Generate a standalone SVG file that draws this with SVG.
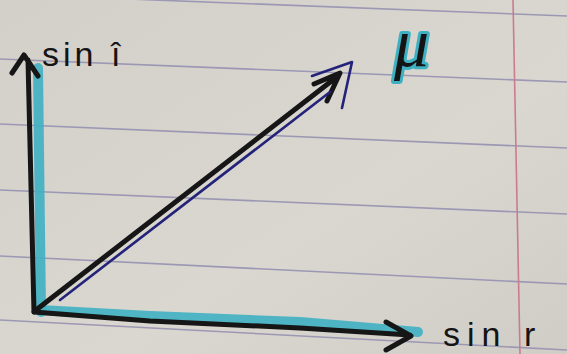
<svg xmlns="http://www.w3.org/2000/svg" width="567" height="354" viewBox="0 0 567 354">
<defs>
<style>
.rule{stroke:#9c98b4;stroke-width:1.6;fill:none}
.margin{stroke:#cc7b8c;stroke-width:1.6;fill:none}
.hl{stroke:#3fb0c2;stroke-width:10;stroke-linecap:round;stroke-linejoin:round;fill:none;opacity:0.9}
.ink{stroke:#161616;stroke-width:5;stroke-linecap:round;stroke-linejoin:round;fill:none}
.pen{stroke:#24237a;stroke-width:2.6;stroke-linecap:round;stroke-linejoin:round;fill:none}
.lbl{font-family:"Liberation Sans",Arial,sans-serif;font-size:34px;fill:#141414}
</style>
<linearGradient id="paperg" x1="0" y1="0" x2="1" y2="1">
<stop offset="0" stop-color="#d3d0ca"/>
<stop offset="0.6" stop-color="#dad7d1"/>
<stop offset="1" stop-color="#d0cdc7"/>
</linearGradient>
</defs>
<g id="paper">
<rect width="567" height="354" fill="url(#paperg)"/>
<path class="rule" d="M0 -6 L567 16"/>
<path class="rule" d="M0 59 L567 82"/>
<path class="rule" d="M0 124 L567 148"/>
<path class="rule" d="M0 190 L567 214"/>
<path class="rule" d="M0 256 L567 284"/>
<path class="rule" d="M0 320 L567 350"/>
<path class="margin" d="M513 0 L520 354"/>
</g>
<g id="connectors">
<path class="hl" d="M38 68 L41 312"/>
<path class="hl" d="M40 310 L150 316 L300 322 L418 332"/>
<path id="sin-i-axis" class="ink" d="M34 312 L28 60 M12 73 L24 55 L38 76"/>
<path id="sin-r-axis" class="ink" d="M34 312 L150 321 L300 328 L410 335 M386 322 L411 336 L386 350"/>
<path id="mu-arrow" class="ink" d="M36 310 C120 245 230 160 338 76 M314 84 L340 73 L327 101"/>
<path id="mu-blue" class="pen" d="M60 300 L330 92 M312 76 L352 62 L342 108"/>
</g>
<g id="label-sini">
<text class="lbl" x="42" y="66" letter-spacing="4">sin î</text>
</g>
<g id="label-sinr">
<text class="lbl" x="443" y="346" letter-spacing="7">sin r</text>
</g>
<g id="label-mu">
<text x="394" y="66" font-family="Liberation Serif,serif" font-style="italic" font-size="70" fill="#141414" stroke="#3fb0c2" stroke-width="6" paint-order="stroke" stroke-linejoin="round">μ</text>
</g>
</svg>
